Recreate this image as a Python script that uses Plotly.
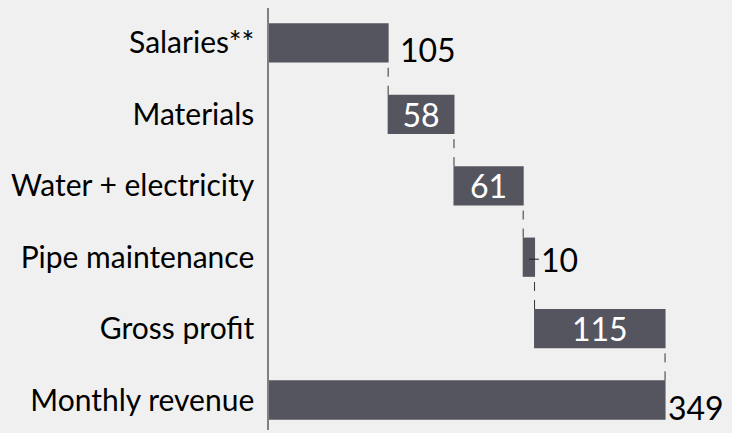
import plotly.graph_objects as go

# Monthly cost breakdown, bottom to top
categories = ["Monthly revenue", "Gross profit", "Pipe maintenance",
              "Water + electricity", "Materials", "Salaries**"]
amounts = [349, 115, 10, 61, 58, 105]
measures = ["absolute", "relative", "relative", "relative", "relative", "relative"]
label_inside = [False, True, False, True, True, False]

BAR = "#55555f"
BG = "#f0f0f0"
FONT = "Lato"
VALUE_SIZE = 32

deltas = [amounts[0]] + [-a for a in amounts[1:]]

# running totals to find where each bar ends on the right
before, after, run = [], [], 0
for m, d in zip(measures, deltas):
    start = 0 if m == "absolute" else run
    end = d if m == "absolute" else run + d
    before.append(start)
    after.append(end)
    run = end
right_edge = [max(b, a) for b, a in zip(before, after)]
mid = [(b + a) / 2 for b, a in zip(before, after)]

fig = go.Figure(go.Waterfall(
    orientation="h",
    y=categories,
    x=deltas,
    measure=measures,
    text=[str(a) if ins else "" for a, ins in zip(amounts, label_inside)],
    textinfo="text",
    textposition="inside",
    textangle=0,
    constraintext="none",
    insidetextanchor="middle",
    insidetextfont=dict(family=FONT, size=VALUE_SIZE, color="white"),
    increasing=dict(marker=dict(color=BAR)),
    decreasing=dict(marker=dict(color=BAR)),
    totals=dict(marker=dict(color=BAR)),
    connector=dict(mode="between", line=dict(color="#333333", width=1, dash="dash")),
    hoverinfo="skip",
))

annotations = []
for i, (cat, a, ins) in enumerate(zip(categories, amounts, label_inside)):
    if ins:
        continue
    if a < 20:
        # small bar: short leader line from the bar to its label
        annotations.append(dict(
            x=mid[i], y=cat, text=str(a), showarrow=True, arrowhead=0,
            arrowwidth=1, arrowcolor="#222222", ax=10, ay=0, standoff=0,
            xanchor="left", yshift=-2,
            font=dict(family=FONT, size=VALUE_SIZE, color="black"),
        ))
    else:
        annotations.append(dict(
            x=right_edge[i], y=cat, text=str(a), showarrow=False,
            xanchor="left", xshift=10 if i else 1, yshift=-7,
            font=dict(family=FONT, size=VALUE_SIZE, color="black"),
        ))

fig.update_layout(
    width=732, height=433,
    margin=dict(l=269, r=0, t=8, b=3),
    paper_bgcolor=BG, plot_bgcolor=BG,
    waterfallgap=0.45,
    showlegend=False,
    annotations=annotations,
    xaxis=dict(range=[0, 408], visible=False, fixedrange=True),
    yaxis=dict(
        type="category", range=[-0.42, 5.49], showgrid=False, zeroline=False,
        showline=True, linecolor="#808080", linewidth=1.5, ticks="",
        ticklabelstandoff=7,
        tickfont=dict(family=FONT, size=30, color="black"),
        automargin=False, fixedrange=True,
    ),
)

fig.write_html("out.html")
